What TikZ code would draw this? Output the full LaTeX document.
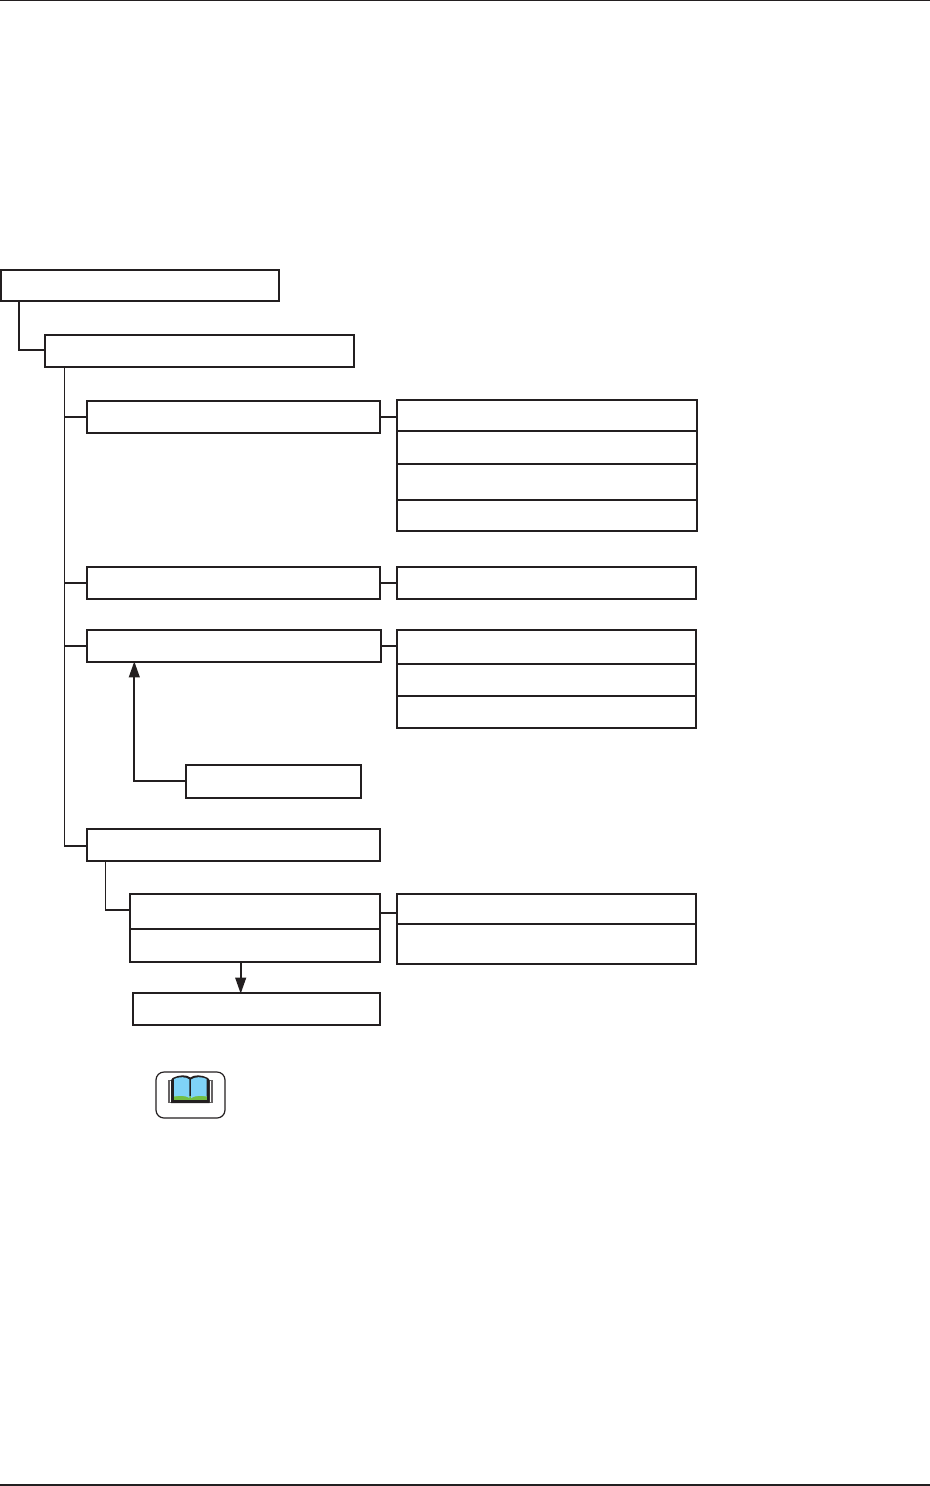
\documentclass[tikz,border=0pt]{standalone}
\usepackage{xcolor}
\usetikzlibrary{fit,arrows.meta}
\definecolor{inkdark}{HTML}{231F20}
\definecolor{pageblue}{HTML}{7FD3F7}
\definecolor{pagegreen}{HTML}{72BF44}
\tikzset{
  box/.style={draw=inkdark, line width=1.5pt, inner sep=0pt, outer sep=0pt},
  link/.style={draw=inkdark, line width=1.4pt},
  thinlink/.style={draw=inkdark, line width=0.8pt},
  arrowlink/.style={link, -{Triangle[length=12pt,width=8pt]}, shorten >=-0.5pt},
}
\begin{document}
\begin{tikzpicture}[x=0.75pt,y=-0.75pt]
  \useasboundingbox (0,0) rectangle (930,1486);
  \coordinate (ruletl) at (0,0.6);
  \coordinate (ruletr) at (930,0.6);
  \coordinate (rulebl) at (0,1485);
  \coordinate (rulebr) at (930,1485);
  \draw[inkdark, line width=1.1pt] (ruletl) -- (ruletr);
  \draw[inkdark, line width=1.1pt] (rulebl) -- (rulebr);

  \node[box, fit={(1,270) (279,301)}] (root) {};
  \node[box, fit={(45,335) (354,367)}] (main) {};

  \node[box, fit={(87,401) (380,433)}] (ma) {};
  \node[box, fit={(397,400) (697,431)}] (maa) {};
  \node[box, fit={(397,431) (697,464)}] (mab) {};
  \node[box, fit={(397,464) (697,500)}] (mac) {};
  \node[box, fit={(397,500) (697,531)}] (mad) {};

  \node[box, fit={(87,567) (380,599)}] (mb) {};
  \node[box, fit={(397,567) (696,599)}] (mba) {};

  \node[box, fit={(87,630) (381,662)}] (mc) {};
  \node[box, fit={(397,630) (696,664)}] (mca) {};
  \node[box, fit={(397,664) (696,696)}] (mcb) {};
  \node[box, fit={(397,696) (696,728)}] (mcc) {};
  \node[box, fit={(186,765) (361,798)}] (sub) {};

  \node[box, fit={(87,829) (380,861)}] (md) {};
  \node[box, fit={(130,894) (380,929)}] (da) {};
  \node[box, fit={(130,929) (380,962)}] (db) {};
  \node[box, fit={(397,894) (696,924)}] (daa) {};
  \node[box, fit={(397,924) (696,964)}] (dab) {};
  \node[box, fit={(133,993) (380,1025)}] (last) {};

  \coordinate (rootbend) at (19,350);
  \coordinate (trunk) at (64.3,846);
  \coordinate (dbend) at (105.5,910);
  \coordinate (subbend) at (134.3,781);
  \coordinate (downx) at (240.7,962);
  \coordinate (dalink) at (380,912.7);

  \draw[link] (rootbend |- root.south) -- (rootbend) -- (rootbend -| main.west);
  \draw[thinlink] (trunk |- main.south) -- (trunk);
  \draw[link] (trunk) -- (trunk -| md.west);
  \draw[link] (trunk |- ma.west) -- (ma.west);
  \draw[link] (trunk |- mb.west) -- (mb.west);
  \draw[link] (trunk |- mc.west) -- (mc.west);
  \draw[link] (ma.east) -- (ma.east -| maa.west);
  \draw[link] (mb.east) -- (mb.east -| mba.west);
  \draw[link] (mc.east) -- (mc.east -| mca.west);
  \draw[thinlink] (dbend |- md.south) -- (dbend) -- (dbend -| da.west);
  \draw[link] (dalink) -- (dalink -| daa.west);
  \draw[arrowlink] (sub.west |- subbend) -- (subbend) -- (subbend |- mc.south);
  \draw[arrowlink] (downx |- db.south) -- (downx |- last.north);

  \draw[inkdark, line width=0.9pt, rounded corners=6pt] (156,1072) rectangle (225,1118);

  \fill[inkdark!70] (167.5,1080) rectangle (213,1103);
  \fill[white] (169.8,1081) rectangle (171.2,1102);
  \fill[white] (209.5,1081) rectangle (210.9,1102);
  \fill[inkdark] (171.2,1103) -- (171.2,1080) -- (172.5,1078) .. controls (179,1074.5) and (187,1074.5) .. (190.3,1077.5)
    .. controls (194,1074.5) and (202,1074.5) .. (208,1078) -- (209.5,1080) -- (209.5,1103) -- cycle;
  \fill[pagegreen] (174,1096) rectangle (206.7,1100);
  \fill[pageblue] (174,1079) .. controls (179,1076.5) and (186,1076.5) .. (189.4,1079.5)
    -- (189.4,1098) .. controls (186,1095.5) and (180,1095.5) .. (174,1096.5) -- cycle;
  \fill[pageblue] (191.2,1079.5) .. controls (195,1076.5) and (202,1076.5) .. (206.7,1079)
    -- (206.7,1096.5) .. controls (201,1095.5) and (195,1095.5) .. (191.2,1098) -- cycle;
\end{tikzpicture}
\end{document}
